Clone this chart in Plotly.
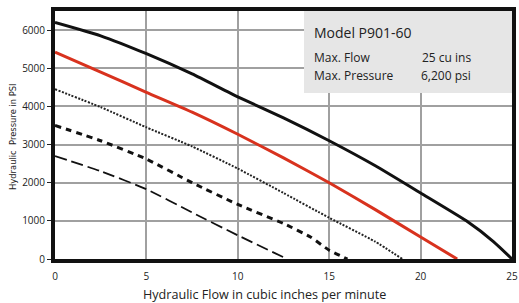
import plotly.graph_objects as go

# Data
black_x = [0, 2.5, 5, 7.5, 10, 12.5, 15, 17.5, 20, 22.5, 24, 25]
black_y = [6200, 5850, 5380, 4850, 4250, 3700, 3100, 2450, 1730, 1000, 450, 0]
red_x = [0, 2.5, 5, 7.5, 10, 12.5, 15, 17.5, 20, 22]
red_y = [5420, 4900, 4370, 3850, 3270, 2650, 2000, 1300, 575, 0]
dot_x = [0, 2.5, 5, 7.5, 10, 12.5, 15, 17.5, 19]
dot_y = [4450, 3980, 3450, 2950, 2370, 1730, 1080, 460, 0]
dash_x = [0, 2.5, 5, 7.5, 10, 12.5, 14, 15, 16]
dash_y = [3500, 3100, 2620, 2000, 1430, 930, 570, 230, 0]
ldash_x = [0, 2.5, 5, 7.5, 10, 12.7]
ldash_y = [2700, 2300, 1830, 1220, 620, 0]

x_ticks = [0, 5, 10, 15, 20, 25]
y_ticks = [0, 1000, 2000, 3000, 4000, 5000, 6000]

FONT = "Open Sans"
L, R, T, B = 55, 7, 11, 44
PW, PH = 519 - L - R, 303 - T - B
SM = 0.5

fig = go.Figure()
fig.add_trace(go.Scatter(x=black_x, y=black_y, mode="lines",
                         line=dict(color="#111111", width=3, shape="spline", smoothing=SM)))
fig.add_trace(go.Scatter(x=red_x, y=red_y, mode="lines",
                         line=dict(color="#d8321e", width=3, shape="spline", smoothing=SM)))
fig.add_trace(go.Scatter(x=dot_x, y=dot_y, mode="lines",
                         line=dict(color="#222222", width=2, dash="2px,1.5px", shape="spline", smoothing=SM)))
fig.add_trace(go.Scatter(x=dash_x, y=dash_y, mode="lines",
                         line=dict(color="#111111", width=3, dash="6px,5px", shape="spline", smoothing=SM)))
fig.add_trace(go.Scatter(x=ldash_x, y=ldash_y, mode="lines",
                         line=dict(color="#111111", width=1.8, dash="12px,5px", shape="spline", smoothing=SM)))

fig.update_layout(
    width=519, height=303,
    margin=dict(l=L, r=R, t=T, b=B, autoexpand=False),
    paper_bgcolor="white", plot_bgcolor="white",
    showlegend=False,
    font=dict(family=FONT, color="#222222", size=10),
    xaxis=dict(range=[0, 25], tickvals=x_ticks, showgrid=True, automargin=False,
               gridcolor="#a0a0a0", gridwidth=2, zeroline=False,
               showline=True, linecolor="#111111", linewidth=4, mirror=True,
               ticks="", ticklabelstandoff=5,
               tickfont=dict(size=10, family=FONT)),
    yaxis=dict(range=[0, 6500], tickvals=y_ticks, showgrid=True, automargin=False,
               gridcolor="#a0a0a0", gridwidth=2, zeroline=False,
               showline=True, linecolor="#111111", linewidth=4, mirror=True,
               ticks="outside", ticklen=4, tickcolor="#222222",
               tickfont=dict(size=10, family=FONT)),
)

def px_x(p):
    return (p - L) / PW

def px_y(p):
    return 1 - (p - T) / PH

fig.add_annotation(xref="paper", yref="paper", x=px_x(264), y=px_y(294),
                   text="Hydraulic Flow in cubic inches per minute", showarrow=False,
                   xanchor="center", yanchor="middle",
                   font=dict(size=12.6, family=FONT, color="#222222"))
fig.add_annotation(xref="paper", yref="paper", x=px_x(13), y=px_y(137),
                   text="Hydraulic  Pressure in PSI", showarrow=False, textangle=-90,
                   xanchor="center", yanchor="middle",
                   font=dict(size=8.4, family="DejaVu Sans", color="#222222"))

fig.add_shape(type="rect", xref="paper", yref="paper",
              x0=px_x(304), x1=1, y0=px_y(93), y1=1,
              fillcolor="#e6e6e6", line=dict(width=0), layer="above")
fig.add_annotation(xref="paper", yref="paper", x=px_x(312), y=px_y(32),
                   text="Model P901-60", showarrow=False, xanchor="left", yanchor="middle",
                   font=dict(size=14, family=FONT, color="#222222"))
fig.add_annotation(xref="paper", yref="paper", x=px_x(312), y=px_y(58),
                   text="Max. Flow", showarrow=False, xanchor="left", yanchor="middle",
                   font=dict(size=12, family=FONT, color="#222222"))
fig.add_annotation(xref="paper", yref="paper", x=px_x(312), y=px_y(75),
                   text="Max. Pressure", showarrow=False, xanchor="left", yanchor="middle",
                   font=dict(size=12, family=FONT, color="#222222"))
fig.add_annotation(xref="paper", yref="paper", x=px_x(473), y=px_y(58),
                   text="25 cu ins", showarrow=False, xanchor="right", yanchor="middle",
                   font=dict(size=12, family=FONT, color="#222222"))
fig.add_annotation(xref="paper", yref="paper", x=px_x(473), y=px_y(75),
                   text="6,200 psi", showarrow=False, xanchor="right", yanchor="middle",
                   font=dict(size=12, family=FONT, color="#222222"))

fig.write_html("out.html", config={"displayModeBar": False},
               post_script="document.body.style.margin='0';document.body.style.padding='0';")
